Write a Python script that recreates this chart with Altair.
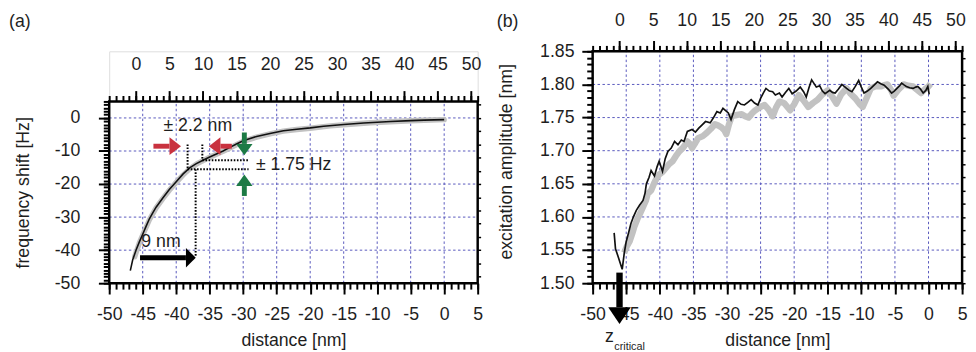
import altair as alt
import pandas as pd

FONT = "Liberation Sans"
FS = 18
TXT = "#1e1e1e"
GRID = "#5858bd"
RED = "#c9323f"
GREEN = "#1c7a45"
GREY = "#c2c2c2"

# ---------------- data: panel (a) ----------------
a_black_x = [-46.85, -46.5, -46.0, -45.5, -45.0, -44.5, -44.0, -43.5, -43.0, -42.0,
             -41.0, -40.0, -39.0, -38.0, -37.0, -36.0, -35.0, -34.0, -33.0, -32.0,
             -31.0, -30.0, -28.0, -26.0, -24.0, -22.0, -20.0, -18.0, -15.0, -12.0,
             -10.0, -8.0, -5.0, -3.0, 0.0]
a_black_y = [-46.2, -43.0, -40.0, -37.5, -35.2, -32.8, -30.5, -28.7, -27.0, -24.2,
             -21.6, -19.3, -17.0, -15.1, -13.8, -12.8, -11.8, -10.9, -10.0, -8.9,
             -7.9, -6.9, -5.6, -4.7, -3.9, -3.4, -3.0, -2.5, -2.0, -1.55,
             -1.3, -1.1, -0.8, -0.65, -0.5]
a_grey_x = [-46.2, -45.5, -45.0, -44.0, -43.0, -42.0, -41.0, -40.0, -39.0, -38.0,
            -37.0, -36.0, -35.0, -34.0, -33.0, -32.0, -30.0, -28.0, -26.0, -24.0,
            -22.0, -20.0, -17.0, -14.0, -11.0, -8.0, -5.0, -2.0, 0.0]
a_grey_y = [-42.0, -37.8, -35.4, -30.8, -27.2, -24.4, -21.8, -19.5, -17.3, -15.4,
            -14.0, -12.9, -11.9, -11.0, -10.1, -9.1, -7.1, -5.8, -4.8, -4.0,
            -3.5, -3.1, -2.4, -1.9, -1.45, -1.15, -0.85, -0.6, -0.5]

# dotted construction lines (x1, y1) -> (x2, y2)
a_dot_x1 = [-38.3, -36.1, -36.1, -38.3, -37.1]
a_dot_y1 = [-8.0, -8.0, -12.8, -15.5, -15.5]
a_dot_x2 = [-38.3, -36.1, -29.2, -29.2, -37.1]
a_dot_y2 = [-15.5, -12.8, -12.8, -15.5, -41.8]

# arrows: shaft from tail to head base, head at base
a_arrow_tail_x = [-43.4, -31.7, -29.83, -29.83, -45.4]
a_arrow_tail_y = [-8.55, -8.55, -4.4, -23.6, -42.3]
a_arrow_base_x = [-41.0, -33.4, -29.83, -29.83, -38.55]
a_arrow_base_y = [-8.55, -8.55, -7.85, -20.6, -42.3]
a_arrow_dir = ["right", "left", "down", "up", "right_big"]
a_arrow_col = [RED, RED, GREEN, GREEN, "#000000"]

a_text = ["\u00b1 2.2 nm", "\u00b1 1.75 Hz", "9 nm", "(a)"]
a_text_x = [-41.9, -28.1, -45.2, -64.95]
a_text_y = [-2.5, -14.3, -37.6, 28.9]

# ---------------- data: panel (b) ----------------
b_black_x = [-46.8, -46.6, -46.2, -45.6, -45.3, -45.0, -44.6, -44.3, -43.9, -43.5,
             -43.0, -42.5, -42.2, -42.0, -41.6, -41.3, -40.8, -40.4, -40.1, -39.6,
             -39.2, -38.8, -38.3, -37.8, -37.3, -36.8, -36.4, -35.9, -35.2, -34.7,
             -34.2, -33.7, -33.2, -32.5, -32.0, -31.5, -31.0, -30.6, -29.8, -29.4,
             -28.9, -28.4, -27.9, -27.4, -26.9, -26.4, -25.9, -25.4, -25.0, -24.6,
             -24.2, -23.7, -23.2, -22.8, -22.2, -21.8, -21.3, -20.8, -20.3, -19.7,
             -19.1, -18.6, -18.2, -17.8, -17.4, -16.7, -16.2, -15.8, -15.4, -14.7,
             -14.3, -13.9, -13.4, -12.9, -12.2, -11.8, -11.4, -10.9, -10.4, -10.0,
             -9.6, -9.1, -8.6, -8.1, -7.6, -7.1, -6.6, -6.0, -5.5, -5.1,
             -4.7, -4.3, -4.0, -3.6, -3.3, -2.8, -2.3, -1.9, -1.6, -1.2,
             -0.8, -0.4, -0.1, 0.1]
b_black_y = [1.576, 1.552, 1.540, 1.521, 1.545, 1.563, 1.578, 1.590, 1.601, 1.610,
             1.618, 1.625, 1.636, 1.650, 1.660, 1.670, 1.662, 1.676, 1.684, 1.669,
             1.688, 1.699, 1.704, 1.714, 1.709, 1.716, 1.714, 1.729, 1.732, 1.728,
             1.734, 1.739, 1.744, 1.742, 1.750, 1.759, 1.757, 1.764, 1.757, 1.747,
             1.762, 1.774, 1.770, 1.769, 1.773, 1.777, 1.772, 1.769, 1.779, 1.787,
             1.794, 1.790, 1.789, 1.784, 1.787, 1.781, 1.788, 1.794, 1.786, 1.790,
             1.796, 1.789, 1.781, 1.795, 1.807, 1.796, 1.798, 1.790, 1.786, 1.791,
             1.788, 1.787, 1.793, 1.800, 1.794, 1.791, 1.789, 1.797, 1.806, 1.796,
             1.787, 1.790, 1.794, 1.799, 1.804, 1.801, 1.799, 1.793, 1.787, 1.790,
             1.794, 1.798, 1.802, 1.799, 1.797, 1.795, 1.794, 1.796, 1.797, 1.793,
             1.787, 1.791, 1.797, 1.785]
b_grey_x = [-45.3, -44.9, -44.5, -44.1, -43.8, -43.3, -42.9, -42.5, -42.1, -41.8,
            -41.3, -40.8, -40.4, -40.1, -39.6, -39.1, -38.6, -38.1, -37.6, -37.1,
            -36.5, -35.9, -35.5, -35.2, -34.7, -34.3, -33.6, -33.0, -32.4, -31.8,
            -31.3, -30.8, -30.4, -30.1, -29.7, -29.3, -28.5, -27.8, -27.3, -26.8,
            -26.3, -25.9, -25.2, -24.4, -23.8, -23.2, -22.7, -22.2, -21.5, -20.6,
            -20.0, -19.3, -18.6, -17.9, -17.2, -16.5, -15.8, -15.0, -14.3, -13.7,
            -13.0, -12.2, -11.6, -10.9, -10.3, -9.8, -9.2, -8.6, -7.9, -7.1,
            -6.6, -6.1, -5.6, -5.2, -4.5, -3.7, -3.0, -2.3, -1.7, -1.1,
            -0.5, 0.0, 0.3]
b_grey_y = [1.546, 1.556, 1.563, 1.575, 1.585, 1.598, 1.606, 1.615, 1.624, 1.635,
            1.640, 1.652, 1.660, 1.664, 1.668, 1.674, 1.680, 1.684, 1.692, 1.699,
            1.705, 1.714, 1.710, 1.704, 1.712, 1.719, 1.722, 1.727, 1.733, 1.740,
            1.738, 1.735, 1.731, 1.725, 1.740, 1.752, 1.754, 1.755, 1.752, 1.750,
            1.756, 1.760, 1.765, 1.769, 1.762, 1.752, 1.765, 1.774, 1.772, 1.761,
            1.770, 1.784, 1.776, 1.766, 1.772, 1.777, 1.785, 1.791, 1.781, 1.771,
            1.785, 1.794, 1.786, 1.779, 1.771, 1.766, 1.780, 1.794, 1.797, 1.797,
            1.799, 1.800, 1.792, 1.783, 1.792, 1.800, 1.798, 1.797, 1.792, 1.787,
            1.793, 1.797, 1.801]
assert len(b_black_x) == len(b_black_y) and len(b_grey_x) == len(b_grey_y)
assert len(a_black_x) == len(a_black_y) and len(a_grey_x) == len(a_grey_y)

b_arrow_tail = (-46.0, 1.516)
b_arrow_base = (-46.0, 1.4637)
b_label_text = ["z", "(b)"]
b_label_x = [-47.5, -62.65]
b_label_y = [1.4184, 1.8945]
b_sub_text = ["critical"]
b_sub_x = [-46.78]
b_sub_y = [1.404]

# ---------------- axes values ----------------
TOP_SHIFT = 46
x_major = list(range(-50, 6, 5))
x_minor = list(range(-50, 6, 1))
x_top_major = [v - TOP_SHIFT for v in range(0, 51, 5)]
x_grid = list(range(-45, 1, 5))
a_y_major = [0, -10, -20, -30, -40, -50]
a_y_minor = list(range(-50, 6, 1))
a_y_right = list(range(-48, 5, 4))
a_y_grid = [0, -10, -20, -30, -40]
b_y_major = [1.50, 1.55, 1.60, 1.65, 1.70, 1.75, 1.80, 1.85]
b_y_minor = [round(1.50 + 0.01 * i, 2) for i in range(36)]
b_y_right = [round(1.50 + 0.02 * i, 2) for i in range(18)]
b_y_grid = [1.55, 1.60, 1.65, 1.70, 1.75, 1.80]

# ---------------- layout ----------------
H = 236
W_A, W_B = 375, 376
A_TOP_GAP = 51            # px between plot top and frame top in panel (a)
A_Y_MAX = 5 + A_TOP_GAP * 55 / (H - A_TOP_GAP)

XS = alt.Scale(domain=[-50, 5], nice=False, zero=False)
YA = alt.Scale(domain=[-50, A_Y_MAX], nice=False, zero=False)
YB = alt.Scale(domain=[1.5, 1.85], nice=False, zero=False)

AX = dict(domain=False, grid=False, tickColor="black", tickWidth=2, labelFont=FONT,
          labelFontSize=FS, labelColor=TXT, titleFont=FONT, titleFontSize=FS,
          titleFontWeight="normal", titleColor=TXT, labelFlush=False,
          labelOverlap=False, labelBound=False)
PLAIN = "'' + datum.value"            # hyphen-minus, as in the original figure
TOP = "'' + (datum.value + %d)" % TOP_SHIFT

HEADS = {
    "right": ("M0,-1L1.3,0L0,1Z", 324),
    "left": ("M0,-1L-1.3,0L0,1Z", 324),
    "down": ("M-1,0L0,1.4L1,0Z", 277),
    "up": ("M-1,0L0,-1.4L1,0Z", 277),
    "right_big": ("M0,-1L1,0L0,1Z", 400),
    "down_big": ("M-1,0L0,1.48L1,0Z", 529),
}


def qx(f, s=XS):
    return alt.X(f, type="quantitative", scale=s, axis=None)


def qy(f, s):
    return alt.Y(f, type="quantitative", scale=s, axis=None)


def x_axis(values, ys, y_at, **kw):
    d = dict(AX)
    d.update(kw)
    df = pd.DataFrame({"v": values, "w": y_at})
    return alt.Chart(df).mark_point(opacity=0).encode(
        x=alt.X("v:Q", scale=XS, axis=alt.Axis(values=values, **d)),
        y=qy("w", ys))


def y_axis(values, ys, **kw):
    d = dict(AX)
    d.update(kw)
    df = pd.DataFrame({"v": values, "w": -50})
    return alt.Chart(df).mark_point(opacity=0).encode(
        y=alt.Y("v:Q", scale=ys, axis=alt.Axis(values=values, **d)),
        x=qx("w"))


def grid_layers(ys, y_lo, y_hi, y_grid):
    gv = alt.Chart(pd.DataFrame({"x": x_grid, "y0": y_lo, "y1": y_hi})).mark_rule(
        color=GRID, strokeDash=[2.5, 2.5], strokeWidth=1).encode(
        x=qx("x"), y=qy("y0", ys), y2="y1")
    gh = alt.Chart(pd.DataFrame({"y": y_grid, "x0": -50, "x1": 5})).mark_rule(
        color=GRID, strokeDash=[2.5, 2.5], strokeWidth=1).encode(
        y=qy("y", ys), x=qx("x0"), x2="x1")
    return [gv, gh]


def frame_layer(ys, y_lo, y_hi):
    return alt.Chart(pd.DataFrame({"x0": [-50], "x1": [5], "y0": [y_lo], "y1": [y_hi]})).mark_rect(
        fillOpacity=0, stroke="black", strokeWidth=2.5).encode(
        x=qx("x0"), x2="x1", y=qy("y0", ys), y2="y1")


def arrows(ys, tx, ty, bx, by, dirs, cols, width=5):
    df = pd.DataFrame({"tx": tx, "ty": ty, "bx": bx, "by": by, "c": cols,
                       "shape": [HEADS[d][0] for d in dirs],
                       "size": [HEADS[d][1] for d in dirs]})
    shafts = alt.Chart(df).mark_rule(strokeWidth=width, strokeCap="butt").encode(
        x=qx("tx"), y=qy("ty", ys), x2="bx", y2="by",
        color=alt.Color("c:N", scale=None))
    heads = alt.Chart(df).mark_point(filled=True, opacity=1, strokeWidth=0).encode(
        x=qx("bx"), y=qy("by", ys), color=alt.Color("c:N", scale=None),
        shape=alt.Shape("shape:N", scale=None), size=alt.Size("size:Q", scale=None))
    return [shafts, heads]


# ---------------- panel (a) ----------------
a_layers = grid_layers(YA, -50, 5, a_y_grid)
a_layers.append(alt.Chart(pd.DataFrame({"x": a_grey_x, "y": a_grey_y})).mark_line(
    color=GREY, strokeWidth=5.5, strokeCap="round", strokeJoin="round").encode(
    x=qx("x"), y=qy("y", YA)))
a_layers.append(alt.Chart(pd.DataFrame({"x": a_black_x, "y": a_black_y})).mark_line(
    color="#111111", strokeWidth=1.6).encode(x=qx("x"), y=qy("y", YA)))
a_layers.append(alt.Chart(pd.DataFrame({"x1": a_dot_x1, "y1": a_dot_y1, "x2": a_dot_x2,
                                        "y2": a_dot_y2})).mark_rule(
    color="black", strokeWidth=2, strokeDash=[1.6, 1.6]).encode(
    x=qx("x1"), y=qy("y1", YA), x2="x2", y2="y2"))
a_layers.append(frame_layer(YA, -50, 5))
a_layers += arrows(YA, a_arrow_tail_x, a_arrow_tail_y, a_arrow_base_x, a_arrow_base_y,
                   a_arrow_dir, a_arrow_col)
a_layers.append(alt.Chart(pd.DataFrame({"x": a_text_x, "y": a_text_y, "t": a_text})).mark_text(
    align="left", baseline="middle", font=FONT, fontSize=FS, color=TXT).encode(
    x=qx("x"), y=qy("y", YA), text="t:N"))
a_layers += [
    x_axis(x_major, YA, -50, orient="bottom", tickSize=11, labelPadding=12,
           labelExpr=PLAIN, title="distance [nm]", titlePadding=8),
    x_axis(x_minor, YA, -50, orient="bottom", tickSize=6, labels=False, title=None),
    x_axis(x_top_major, YA, 5, orient="top", tickSize=11, labelPadding=17,
           labelExpr=TOP, title=None, offset=-A_TOP_GAP),
    x_axis(x_minor, YA, 5, orient="top", tickSize=6, labels=False, title=None,
           offset=-A_TOP_GAP),
    y_axis(a_y_major, YA, orient="left", tickSize=11, labelPadding=19, labelExpr=PLAIN,
           title="frequency shift [Hz]", titlePadding=22.5,
           titleY=A_TOP_GAP + (H - A_TOP_GAP) / 2),
    y_axis(a_y_minor, YA, orient="left", tickSize=6, labels=False, title=None),
    y_axis(a_y_right, YA, orient="right", tickSize=3, tickWidth=1.5, labels=False,
           title=None),
]
panel_a = alt.layer(*a_layers).resolve_axis(x="independent", y="independent").properties(
    width=W_A, height=H)

# ---------------- panel (b) ----------------
b_layers = grid_layers(YB, 1.5, 1.85, b_y_grid)
b_layers.append(alt.Chart(pd.DataFrame({"x": b_grey_x, "y": b_grey_y})).mark_line(
    color=GREY, strokeWidth=6.5, strokeJoin="round").encode(x=qx("x"), y=qy("y", YB)))
b_layers.append(alt.Chart(pd.DataFrame({"x": b_black_x, "y": b_black_y})).mark_line(
    color="#111111", strokeWidth=1.7).encode(x=qx("x"), y=qy("y", YB)))
b_layers.append(frame_layer(YB, 1.5, 1.85))
b_layers += arrows(YB, [b_arrow_tail[0]], [b_arrow_tail[1]], [b_arrow_base[0]],
                   [b_arrow_base[1]], ["down_big"], ["#000000"], width=6.5)
b_layers.append(alt.Chart(pd.DataFrame({"x": b_label_x, "y": b_label_y,
                                        "t": b_label_text})).mark_text(
    align="center", baseline="middle", font=FONT, fontSize=FS, color=TXT).encode(
    x=qx("x"), y=qy("y", YB), text="t:N"))
b_layers.append(alt.Chart(pd.DataFrame({"x": b_sub_x, "y": b_sub_y,
                                        "t": b_sub_text})).mark_text(
    align="left", baseline="middle", font=FONT, fontSize=11, color=TXT).encode(
    x=qx("x"), y=qy("y", YB), text="t:N"))
b_layers += [
    x_axis(x_major, YB, 1.5, orient="bottom", tickSize=11, labelPadding=12,
           labelExpr=PLAIN, title="distance [nm]", titlePadding=8),
    x_axis(x_minor, YB, 1.5, orient="bottom", tickSize=6, labels=False, title=None),
    x_axis(x_top_major, YB, 1.85, orient="top", tickSize=11, labelPadding=11,
           labelExpr=TOP, title=None),
    x_axis(x_minor, YB, 1.85, orient="top", tickSize=6, labels=False, title=None),
    y_axis(b_y_major, YB, orient="left", tickSize=11, labelPadding=8, format=".2f",
           title="excitation amplitude [nm]", titlePadding=25, titleY=H / 2 - 6),
    y_axis(b_y_minor, YB, orient="left", tickSize=6, labels=False, title=None),
    y_axis(b_y_right, YB, orient="right", tickSize=3, tickWidth=1.5, labels=False,
           title=None),
]
panel_b = alt.layer(*b_layers).resolve_axis(x="independent", y="independent").properties(
    width=W_B, height=H)

chart = alt.hconcat(panel_a, panel_b, spacing=13).properties(
    padding={"left": 0, "top": 0, "right": 0, "bottom": 0}
).configure_view(stroke=None).configure(background="white")

chart.save("out.html", embed_options={"renderer": "svg", "actions": False})
